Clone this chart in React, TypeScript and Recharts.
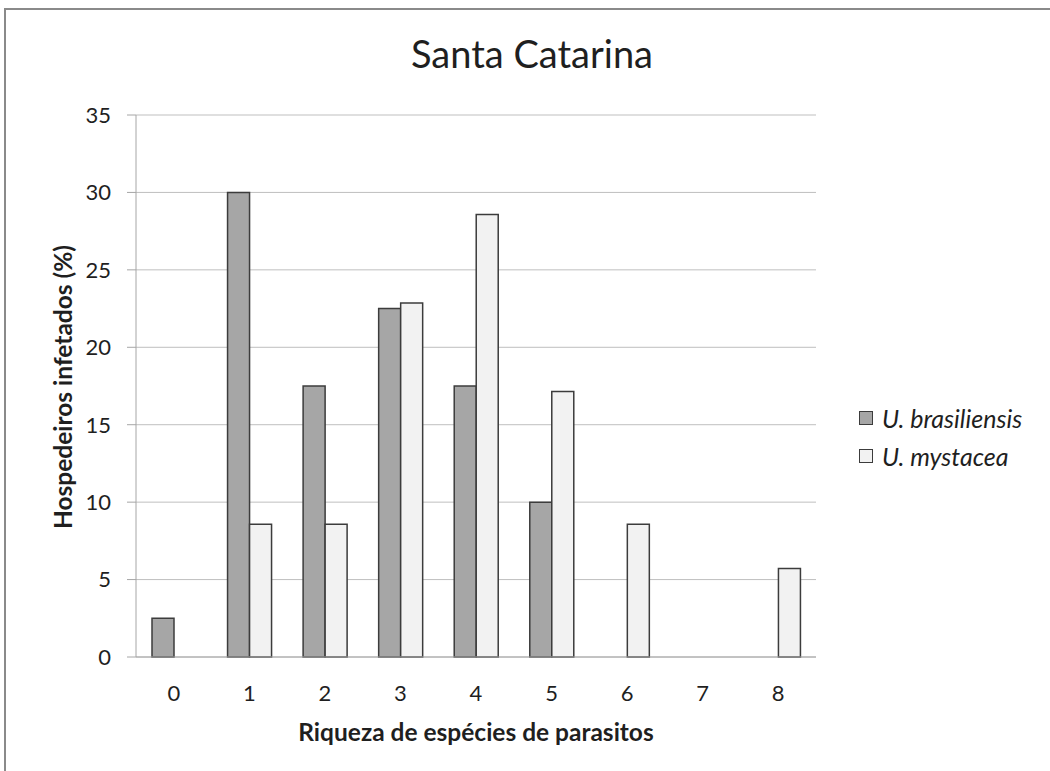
import { Bar, BarChart, CartesianGrid, XAxis, YAxis } from 'recharts'

const riqueza = ['0', '1', '2', '3', '4', '5', '6', '7', '8']
const brasiliensis = [2.5, 30, 17.5, 22.5, 17.5, 10, 0, 0, 0]
const mystacea = [0, 8.57, 8.57, 22.86, 28.57, 17.14, 8.57, 0, 5.71]
const yTicks = [0, 5, 10, 15, 20, 25, 30, 35]

const series = [
  { key: 'brasiliensis', name: 'U. brasiliensis', fill: '#a6a6a6' },
  { key: 'mystacea', name: 'U. mystacea', fill: '#f2f2f2' },
]

const data = riqueza.map((r, i) => ({
  riqueza: r,
  brasiliensis: brasiliensis[i],
  mystacea: mystacea[i],
}))

const FONT = 'Lato, "Open Sans", sans-serif'
const TEXT = '#1f1f1f'

export default function App() {
  return (
    <div
      style={{
        position: 'absolute',
        left: 0,
        top: 0,
        width: 1050,
        height: 771,
        overflow: 'hidden',
        background: '#fff',
        fontFamily: FONT,
      }}
    >
      {/* chart frame, runs off the right and bottom edges */}
      <div
        style={{
          position: 'absolute',
          left: 4,
          top: 8,
          width: 1100,
          height: 820,
          border: '2px solid #8a8a8a',
          boxSizing: 'border-box',
        }}
      />
      <svg width={1050} height={100} style={{ position: 'absolute', left: 0, top: 0 }}>
        <text x={532} y={68} textAnchor="middle" fontSize={38} fontFamily={FONT} fill={TEXT}>
          Santa Catarina
        </text>
      </svg>

      <div style={{ position: 'absolute', left: 0, top: 0 }}>
        <BarChart
          width={1050}
          height={771}
          data={data}
          margin={{ top: 115, right: 234, bottom: 84, left: 0 }}
          barSize={22}
          barGap={0}
        >
          <CartesianGrid vertical={false} stroke="#bfbfbf" strokeWidth={1} />
          <XAxis
            dataKey="riqueza"
            height={30}
            tickLine={false}
            axisLine={{ stroke: '#a6a6a6' }}
            tick={{ fill: TEXT, fontSize: 22, fontFamily: FONT }}
            tickMargin={22}
            label={{
              content: () => (
                <text
                  x={476}
                  y={741}
                  textAnchor="middle"
                  fontSize={24.5}
                  fontWeight={700}
                  fontFamily={FONT}
                  fill={TEXT}
                >
                  Riqueza de espécies de parasitos
                </text>
              ),
            }}
          />
          <YAxis
            width={136}
            domain={[0, 35]}
            ticks={yTicks}
            interval={0}
            tickSize={9}
            tickMargin={16}
            tickLine={{ stroke: '#a6a6a6' }}
            axisLine={{ stroke: '#a6a6a6' }}
            tick={{ fill: TEXT, fontSize: 22, fontFamily: FONT }}
            label={{
              content: () => (
                <text
                  transform="translate(72,387) rotate(-90)"
                  textAnchor="middle"
                  fontSize={24.5}
                  fontWeight={700}
                  fontFamily={FONT}
                  fill={TEXT}
                >
                  Hospedeiros infetados (%)
                </text>
              ),
            }}
          />
          {series.map((s) => (
            <Bar
              key={s.key}
              dataKey={s.key}
              name={s.name}
              fill={s.fill}
              stroke="#3c3c3c"
              strokeWidth={1.5}
              isAnimationActive={false}
            />
          ))}
        </BarChart>
      </div>

      <ul
        style={{
          position: 'absolute',
          left: 859,
          top: 399,
          margin: 0,
          padding: 0,
          listStyle: 'none',
        }}
      >
        {series.map((s) => (
          <li
            key={s.key}
            style={{
              display: 'flex',
              alignItems: 'center',
              height: 38,
              fontSize: 25,
              fontStyle: 'italic',
              color: TEXT,
            }}
          >
            <span
              style={{
                width: 12,
                height: 12,
                marginRight: 9,
                background: s.fill,
                border: '1px solid #3c3c3c',
              }}
            />
            {s.name}
          </li>
        ))}
      </ul>
    </div>
  )
}
